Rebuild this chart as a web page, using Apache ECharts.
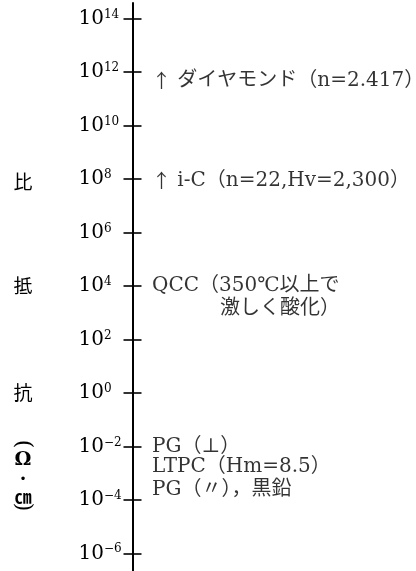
<!DOCTYPE html>
<html>
<head>
<meta charset="utf-8">
<script src="https://cdn.jsdelivr.net/npm/echarts@6/dist/echarts.min.js"></script>
<style>
html,body{margin:0;padding:0;background:#fff;}
#c{width:416px;height:571px;}
</style>
</head>
<body>
<div id="c"></div>
<script>
// ---- data ----
const tickExponents = [-6, -4, -2, 0, 2, 4, 6, 8, 10, 12, 14];
const axisMinExp = -6.66;
const axisMaxExp = 14.58;
const annotTexts = [
  '{ar|↑} ダイヤモンド（n=2.417）',
  '{ar|↑} i-C（n=22,Hv=2,300）',
  '{t|QCC（350℃以上で}\n{ind|激しく酸化）}',
  'PG（⊥）',
  'LTPC（Hm=8.5）',
  'PG（〃），黒鉛'
];
const annotExps = [11.68, 7.93, 4.0, -2.0, -2.75, -3.63];
const titleChars = ['比', '抵', '抗', '(', 'Ω', '•', '㎝', ')'];

// ---- layout / style ----
const AX = 132.5;      // visible axis line x
const TICK = 9;        // half tick length
const serif = "'DejaVu Serif', 'Noto Sans CJK JP', serif";
const cjk = "'Noto Sans CJK JP', sans-serif";
const ink = '#000';
const titleY = [182, 286, 393, 444, 460, 480, 497, 507];
const titleSize = [19, 19, 19, 22, 19, 12, 17, 22];
const titleFont = [cjk, cjk, cjk, "'DejaVu Serif', serif", "'DejaVu Serif', serif", "'DejaVu Sans', sans-serif", cjk, "'DejaVu Serif', serif"];
const titleRot = [0, 0, 0, -Math.PI / 2, 0, 0, 0, -Math.PI / 2];

function supText(v) {
  return v < 0 ? '\u2212' + (-v) : String(v);
}

const chart = echarts.init(document.getElementById('c'), null, {renderer: 'canvas'});

const scatterData = annotTexts.map((t, i) => {
  const item = {value: [0, annotExps[i]], name: t};
  if (t.indexOf('\n') >= 0) {
    item.label = {offset: [0, 11.5]};
  }
  return item;
});

const option = {
  animation: false,
  backgroundColor: '#fff',
  grid: [
    {left: AX + TICK, right: 0, top: 3, bottom: 0, containLabel: false},
    {left: AX, right: 0, top: 3, bottom: 0, containLabel: false}
  ],
  xAxis: [
    {type: 'value', gridIndex: 0, min: 0, max: 1, show: false},
    {type: 'value', gridIndex: 1, min: 0, max: 1, show: false}
  ],
  yAxis: [
    {
      // ticks (crossing the line) and labels
      type: 'value', gridIndex: 0, position: 'left', min: axisMinExp, max: axisMaxExp,
      axisLine: {show: true, lineStyle: {color: '#fff', width: 0, opacity: 0}},
      axisTick: {show: true, inside: false, length: TICK * 2, customValues: tickExponents,
        lineStyle: {color: ink, width: 1.6}},
      splitLine: {show: false},
      axisLabel: {
        show: true, customValues: tickExponents, align: 'left', margin: AX + TICK - 78.5,
        formatter: v => '{b|10}{s|' + supText(v) + '}',
        rich: {
          b: {fontFamily: serif, fontSize: 20, lineHeight: 20, color: ink},
          s: {fontFamily: serif, fontSize: 12, lineHeight: 12, verticalAlign: 'top', color: ink}
        }
      }
    },
    {
      // the visible axis line
      type: 'value', gridIndex: 1, position: 'left', min: axisMinExp, max: axisMaxExp,
      axisLine: {show: true, lineStyle: {color: ink, width: 2}},
      axisTick: {show: false},
      axisLabel: {show: false},
      splitLine: {show: false}
    }
  ],
  series: [{
    type: 'scatter',
    xAxisIndex: 0,
    yAxisIndex: 0,
    symbolSize: 0,
    silent: true,
    data: scatterData,
    label: {
      show: true, position: 'right', distance: 152 - AX - TICK,
      formatter: p => p.name,
      fontFamily: serif, fontSize: 20, color: ink, lineHeight: 23,
      rich: {
        ar: {fontFamily: cjk, fontSize: 19, color: ink},
        t: {fontFamily: serif, fontSize: 20, lineHeight: 23, color: ink},
        ind: {fontFamily: serif, fontSize: 20, lineHeight: 23, color: ink, padding: [0, 0, 0, 68]}
      }
    }
  }],
  graphic: titleChars.map((ch, i) => ({
    type: 'text',
    x: 23, y: titleY[i],
    rotation: titleRot[i],
    style: {
      text: ch,
      fontFamily: titleFont[i], fontSize: titleSize[i],
      fontWeight: (i === 4 || i === 6) ? 'bold' : 'normal',
      fill: ink,
      align: 'center', verticalAlign: 'middle',
      textAlign: 'center', textVerticalAlign: 'middle'
    }
  }))
};
chart.setOption(option);
</script>
</body>
</html>
